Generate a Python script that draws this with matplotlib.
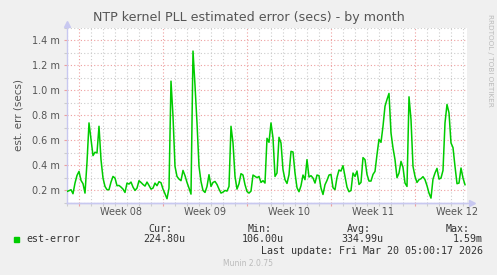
import numpy as np
import matplotlib
matplotlib.use("Agg")
import matplotlib.pyplot as plt
import matplotlib.dates as mdates
from matplotlib.ticker import MultipleLocator, FormatStrFormatter
from datetime import datetime, timedelta

# est-error in milliseconds, one sample every 4 hours from Feb 15 2026
est_error = [
    0.192, 0.198, 0.206, 0.174, 0.259, 0.320, 0.352, 0.280, 0.254, 0.179,
    0.424, 0.739, 0.606, 0.478, 0.505, 0.499, 0.712, 0.446, 0.299, 0.232,
    0.206, 0.206, 0.267, 0.312, 0.299, 0.238, 0.240, 0.227, 0.211, 0.184,
    0.259, 0.251, 0.267, 0.227, 0.200, 0.219, 0.278, 0.264, 0.248, 0.235,
    0.267, 0.240, 0.211, 0.219, 0.259, 0.238, 0.270, 0.262, 0.211, 0.174,
    0.134, 0.219, 1.072, 0.792, 0.392, 0.312, 0.291, 0.278, 0.360, 0.318,
    0.264, 0.219, 0.171, 1.312, 1.038, 0.739, 0.392, 0.272, 0.200, 0.184,
    0.232, 0.326, 0.232, 0.264, 0.272, 0.248, 0.211, 0.179, 0.187, 0.200,
    0.195, 0.232, 0.712, 0.579, 0.312, 0.211, 0.254, 0.334, 0.323, 0.246,
    0.192, 0.179, 0.195, 0.323, 0.312, 0.302, 0.312,
    0.264, 0.278, 0.259, 0.616, 0.584, 0.739, 0.619, 0.312, 0.339, 0.624,
    0.579, 0.366, 0.286, 0.256, 0.326, 0.512, 0.507, 0.339, 0.222, 0.190,
    0.238, 0.323, 0.286, 0.446, 0.307, 0.318, 0.299, 0.259, 0.323, 0.318,
    0.219, 0.168, 0.246, 0.280, 0.323, 0.328, 0.222, 0.206, 0.304, 0.363,
    0.355, 0.398, 0.312, 0.227, 0.190, 0.200, 0.339, 0.312, 0.355, 0.248,
    0.264, 0.462, 0.446, 0.328, 0.275, 0.275, 0.328, 0.352, 0.486, 0.608,
    0.584, 0.712, 0.872, 0.926, 0.974, 0.659, 0.539, 0.446, 0.302, 0.339,
    0.432, 0.384, 0.259, 0.232, 0.947, 0.766, 0.392, 0.312, 0.264, 0.286,
    0.294, 0.310, 0.286, 0.238, 0.179, 0.139, 0.291, 0.339, 0.376, 0.291,
    0.299, 0.360, 0.739, 0.886, 0.819, 0.579, 0.542, 0.392, 0.254, 0.259,
    0.379, 0.299, 0.246,
]
start = datetime(2026, 2, 15, 0, 0)
step_hours = 4
span_hours = 800

legend_cols = ["Cur:", "Min:", "Avg:", "Max:"]
legend_vals = ["224.80u", "106.00u", "334.99u", "1.59m"]
last_update = "Last update: Fri Mar 20 05:00:17 2026"

times = [start + timedelta(hours=step_hours * i) for i in range(len(est_error))]
end = start + timedelta(hours=span_hours)

W, H = 497, 275
bg = "#F0F0F0"
axis_col = "#C8C8F0"
minor_col = "#CCCCCC"
major_col = "#EE9F9F"
text_col = "#555555"

fig = plt.figure(figsize=(W / 100, H / 100), dpi=100, facecolor=bg)
ax = fig.add_axes([67 / W, 1 - 203 / H, 400 / W, 175.5 / H])
ax.set_facecolor("white")

ax.plot(times, est_error, color="#00CC00", lw=1.1, zorder=3)

ax.set_xlim(start, end)
ax.set_ylim(0.1, 1.5)

ax.xaxis.set_major_locator(mdates.WeekdayLocator(byweekday=mdates.MO))
ax.xaxis.set_minor_locator(mdates.DayLocator())
ax.xaxis.set_major_formatter(plt.NullFormatter())
ax.yaxis.set_major_locator(MultipleLocator(0.2))
ax.yaxis.set_minor_locator(MultipleLocator(0.1))
ax.yaxis.set_major_formatter(FormatStrFormatter("%.1f m"))

ax.grid(which="minor", color=minor_col, ls=(0, (1, 2)), lw=0.8)
ax.grid(which="major", color=major_col, ls=(0, (1, 2)), lw=0.8)
ax.set_axisbelow(True)

ax.tick_params(which="both", direction="out", length=2, width=0.8)
ax.tick_params(which="major", colors=major_col, labelcolor=text_col, labelsize=7, pad=3)
ax.tick_params(which="minor", colors=minor_col)

for s in ["top", "right"]:
    ax.spines[s].set_visible(False)
for s in ["left", "bottom"]:
    ax.spines[s].set_color(axis_col)
    ax.spines[s].set_linewidth(1.0)

# axis arrows
ax.plot([0], [1.02], marker="^", ms=5, color=axis_col, transform=ax.transAxes, clip_on=False)
ax.plot([0, 1.012], [0, 0], color=axis_col, lw=1.0, transform=ax.transAxes, clip_on=False)
ax.plot([1.012], [0], marker=">", ms=5, color=axis_col, transform=ax.transAxes, clip_on=False)

# week labels centred in each week
wk = start - timedelta(days=start.weekday())
while wk < end:
    mid = wk + timedelta(days=3.5)
    if start <= mid <= end:
        ax.text(mdates.date2num(mid), -0.053, "Week %02d" % wk.isocalendar()[1],
                transform=ax.get_xaxis_transform(), ha="center", va="center",
                fontsize=7, color=text_col)
    wk += timedelta(days=7)

ax.set_ylabel("est. err (secs)", fontsize=7.5, color=text_col, labelpad=6)

fig.text(249 / W, 1 - 18 / H, "NTP kernel PLL estimated error (secs) - by month",
         ha="center", va="center", fontsize=9.1, color="#555555")
fig.text(490 / W, 1 - 14 / H, "RRDTOOL / TOBI OETIKER", rotation=270,
         ha="center", va="top", fontsize=5.2, color="#BBBBBB")

# legend block
mono = "DejaVu Sans Mono"
fig.patches.append(plt.Rectangle((14 / W, 1 - 242 / H), 5 / W, 5 / H,
                                 transform=fig.transFigure, color="#00CC00"))
fig.text(26 / W, 1 - 239.5 / H, "est-error", ha="left", va="center",
         fontsize=7.2, family=mono, color="#333333")
head_right = [172, 272, 371, 470]
val_right = [185, 284, 383, 483]
for lab, val, hx, vx in zip(legend_cols, legend_vals, head_right, val_right):
    fig.text(hx / W, 1 - 228.5 / H, lab, ha="right", va="center",
             fontsize=7.2, family=mono, color="#333333")
    fig.text(vx / W, 1 - 239.5 / H, val, ha="right", va="center",
             fontsize=7.2, family=mono, color="#333333")
fig.text(483 / W, 1 - 251 / H, last_update, ha="right", va="center",
         fontsize=7.2, family=mono, color="#333333")
fig.text(248 / W, 1 - 264 / H, "Munin 2.0.75", ha="center", va="center",
         fontsize=5.5, color="#BBBBBB")

fig.savefig("out.png", dpi=100, facecolor=bg)
